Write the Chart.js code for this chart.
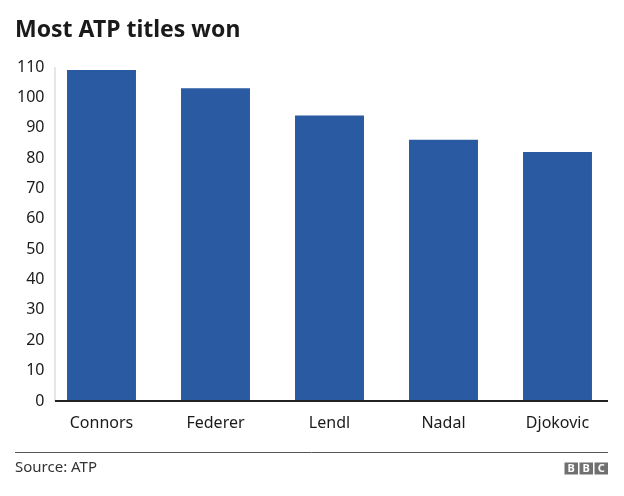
<!DOCTYPE html>
<html>
<head>
<meta charset="utf-8">
<script src="https://cdn.jsdelivr.net/npm/chart.js@4/dist/chart.umd.min.js"></script>
<style>
  html, body { margin: 0; padding: 0; background: #fff; }
  #wrap { width: 624px; height: 496px; }
</style>
</head>
<body>
<div id="wrap"><canvas id="titles-chart" width="624" height="496"></canvas></div>
<script>
const players = ["Connors", "Federer", "Lendl", "Nadal", "Djokovic"];
const titlesWon = [109, 103, 94, 86, 82];
const yTicks = [0, 10, 20, 30, 40, 50, 60, 70, 80, 90, 100, 110];

const chartTitle = "Most ATP titles won";
const sourceText = "Source: ATP";
const barColor = "#2a5ba2";
const textColor = "#1a1a1a";
const fontFamily = "'Noto Sans', 'Open Sans', sans-serif";

// title, axis lines and footer are drawn by hand on top of the chart
const decorations = {
    id: 'decorations',
    afterDraw(chart) {
        const { ctx, chartArea } = chart;
        const axisX = chartArea.left + 10.5;
        const axisEnd = chartArea.right - 6.5;

        ctx.save();

        // light vertical axis line
        ctx.strokeStyle = '#cccccc';
        ctx.lineWidth = 1;
        ctx.beginPath();
        ctx.moveTo(axisX, chartArea.top);
        ctx.lineTo(axisX, chartArea.bottom);
        ctx.stroke();

        // dark baseline at zero
        const zeroY = chart.scales.y.getPixelForValue(0);
        ctx.strokeStyle = '#222222';
        ctx.lineWidth = 2;
        ctx.beginPath();
        ctx.moveTo(axisX, zeroY);
        ctx.lineTo(axisEnd, zeroY);
        ctx.stroke();

        // title
        ctx.fillStyle = textColor;
        ctx.font = "bold 23px " + fontFamily;
        ctx.textBaseline = 'middle';
        ctx.textAlign = 'left';
        ctx.fillText(chartTitle, 15, 30);

        // footer rule
        ctx.strokeStyle = '#555555';
        ctx.lineWidth = 1;
        ctx.beginPath();
        ctx.moveTo(15, 452.5);
        ctx.lineTo(axisEnd, 452.5);
        ctx.stroke();

        // source
        ctx.fillStyle = '#333333';
        ctx.font = "15px " + fontFamily;
        ctx.fillText(sourceText, 15, 468);

        // BBC blocks
        const letters = ["B", "B", "C"];
        const boxW = 13.5, gap = 1.5, boxH = 12;
        let bx = axisEnd - (boxW * 3 + gap * 2);
        ctx.font = "bold 11px " + fontFamily;
        ctx.textAlign = 'center';
        letters.forEach(letter => {
            ctx.fillStyle = '#707070';
            ctx.fillRect(bx, 462.5, boxW, boxH);
            ctx.fillStyle = '#ffffff';
            ctx.fillText(letter, bx + boxW / 2, 469);
            bx += boxW + gap;
        });

        ctx.restore();
    }
};

const config = {
    type: 'bar',
    data: {
        labels: players,
        datasets: [
            {
                data: titlesWon,
                backgroundColor: barColor,
                barPercentage: 0.605,
                categoryPercentage: 1.0
            }
        ]
    },
    options: {
        responsive: false,
        animation: false,
        devicePixelRatio: 1,
        layout: {
            padding: { left: 0, right: 9.5, top: 67, bottom: 55 }
        },
        plugins: {
            legend: { display: false },
            title: { display: false },
            tooltip: { enabled: false }
        },
        scales: {
            x: {
                grid: { display: false, drawTicks: false },
                border: { display: false },
                ticks: {
                    color: textColor,
                    padding: 13,
                    font: { family: fontFamily, size: 16 }
                },
                afterFit: (scale) => { scale.height = 40; }
            },
            y: {
                min: 0,
                max: 110,
                grid: { display: false, drawTicks: false },
                border: { display: false },
                afterBuildTicks: (scale) => {
                    scale.ticks = yTicks.map(v => ({ value: v }));
                },
                ticks: {
                    color: textColor,
                    padding: 0,
                    font: { family: fontFamily, size: 16 }
                },
                afterFit: (scale) => { scale.width = 44.5; }
            }
        }
    },
    plugins: [decorations]
};

new Chart(document.getElementById('titles-chart'), config);
</script>
</body>
</html>
